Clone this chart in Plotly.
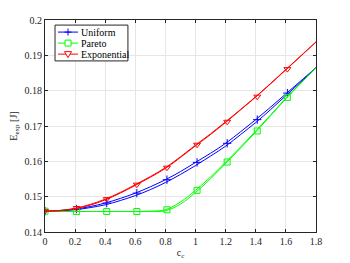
import plotly.graph_objects as go

# Curve samples (c_c) and values
x_curve = [0, 0.1, 0.2, 0.3, 0.4, 0.5, 0.6, 0.7, 0.8, 0.9, 1.0, 1.1, 1.2, 1.3, 1.4, 1.5, 1.6, 1.7, 1.8]
exp_a = [0.1459, 0.1461, 0.1467, 0.1478, 0.1493, 0.1512, 0.1534, 0.1557, 0.1582, 0.1613, 0.1646,
         0.1678, 0.1712, 0.1747, 0.1783, 0.1821, 0.1860, 0.1899, 0.1938]
exp_b = [0.1459, 0.1460, 0.1466, 0.1476, 0.1491, 0.1510, 0.1532, 0.1555, 0.1580, 0.1611, 0.1644,
         0.1676, 0.1710, 0.1746, 0.1782, 0.1820, 0.1859, 0.1898, 0.1938]
uni_a = [0.1459, 0.1461, 0.1465, 0.1472, 0.1482, 0.1495, 0.1510, 0.1528, 0.1548, 0.1571, 0.1597,
         0.1623, 0.1651, 0.1684, 0.1718, 0.1754, 0.1791, 0.1828, 0.1865]
uni_b = [0.1459, 0.1460, 0.1463, 0.1469, 0.1477, 0.1489, 0.1503, 0.1520, 0.1540, 0.1563, 0.1588,
         0.1615, 0.1643, 0.1676, 0.1710, 0.1747, 0.1786, 0.1825, 0.1865]
par_a = [0.1459, 0.1458, 0.1458, 0.1458, 0.1458, 0.1458, 0.1458, 0.1459, 0.1463, 0.1485, 0.1518,
         0.1556, 0.1598, 0.1641, 0.1686, 0.1732, 0.1779, 0.1822, 0.1865]
par_b = [0.1459, 0.1458, 0.1458, 0.1458, 0.1458, 0.1458, 0.1458, 0.1458, 0.1460, 0.1479, 0.1512,
         0.1551, 0.1594, 0.1638, 0.1683, 0.1730, 0.1777, 0.1821, 0.1865]

# Marker positions and values
x_mark = [0, 0.21, 0.41, 0.61, 0.81, 1.01, 1.21, 1.41, 1.61]
uni_m = [0.1459, 0.1465, 0.1482, 0.1510, 0.1548, 0.1597, 0.1651, 0.1718, 0.1793]
par_m = [0.1459, 0.1458, 0.1458, 0.1458, 0.1463, 0.1518, 0.1598, 0.1686, 0.1781]
exp_m = [0.1459, 0.1468, 0.1493, 0.1534, 0.1582, 0.1647, 0.1712, 0.1783, 0.1861]

x_ticks = [0, 0.2, 0.4, 0.6, 0.8, 1, 1.2, 1.4, 1.6, 1.8]
x_ticktext = ["0", "0.2", "0.4", "0.6", "0.8", "1", "1.2", "1.4", "1.6", "1.8"]
y_ticks = [0.14, 0.15, 0.16, 0.17, 0.18, 0.19, 0.2]
y_ticktext = ["0.14", "0.15", "0.16", "0.17", "0.18", "0.19", "0.2"]

series_names = ["Uniform", "Pareto", "Exponential"]
series_colors = ["#0000FF", "#00FF00", "#FF0000"]
series_symbols = ["cross-thin", "square-open", "triangle-down-open"]

FONT = "Times New Roman, Liberation Serif, DejaVu Serif, serif"

curves_a = [uni_a, par_a, exp_a]
curves_b = [uni_b, par_b, exp_b]
marks = [uni_m, par_m, exp_m]

fig = go.Figure()
for name, color, sym, ya, yb, ym in zip(series_names, series_colors, series_symbols, curves_a, curves_b, marks):
    fig.add_trace(go.Scatter(x=x_curve, y=yb, mode="lines", line=dict(color=color, width=1, shape="spline"),
                             showlegend=False, hoverinfo="skip"))
    fig.add_trace(go.Scatter(x=x_curve, y=ya, mode="lines", line=dict(color=color, width=1, shape="spline"),
                             showlegend=False, hoverinfo="skip"))
    fig.add_trace(go.Scatter(x=x_mark, y=ym, mode="markers", name=name,
                             marker=dict(symbol=sym, size=6, color=color, line=dict(color=color, width=1)),
                             showlegend=False))

# ---- compact legend box (MATLAB style) built from layout shapes/annotations ----
shapes = [dict(type="rect", xref="paper", yref="paper", x0=0.037, x1=0.306, y0=0.807, y1=0.976,
               line=dict(color="#262626", width=1), fillcolor="white", layer="above")]
annotations = []
row_y = [0.943, 0.891, 0.839]
for name, color, sym, ry in zip(series_names, series_colors, series_symbols, row_y):
    shapes.append(dict(type="line", xref="paper", yref="paper", x0=0.048, x1=0.122, y0=ry, y1=ry,
                       line=dict(color=color, width=1), layer="above"))
    base = dict(xref="paper", yref="paper", xsizemode="pixel", ysizemode="pixel",
                xanchor=0.085, yanchor=ry, line=dict(color=color, width=1), layer="above")
    if sym == "cross-thin":
        shapes.append(dict(type="line", x0=-3.5, x1=3.5, y0=0, y1=0, **base))
        shapes.append(dict(type="line", x0=0, x1=0, y0=-3.5, y1=3.5, **base))
    elif sym == "square-open":
        shapes.append(dict(type="rect", x0=-3, x1=3, y0=-3, y1=3, fillcolor="white", **base))
    else:
        shapes.append(dict(type="path", path="M-3.5,2.5 L3.5,2.5 L0,-3.5 Z", fillcolor="white", **base))
    annotations.append(dict(xref="paper", yref="paper", x=0.124, y=ry, xanchor="left", yanchor="middle",
                            text=name, showarrow=False,
                            font=dict(family=FONT, size=10, color="#000000")))

axis_common = dict(showline=True, linecolor="#262626", linewidth=1, mirror="allticks",
                   ticks="inside", ticklen=3, tickcolor="#262626", automargin=False,
                   showgrid=True, gridcolor="#E6E6E6", gridwidth=1, zeroline=False,
                   tickfont=dict(family=FONT, size=10, color="#262626"))

fig.update_layout(
    width=342, height=255,
    margin=dict(l=37, r=34, t=12, b=31),
    paper_bgcolor="white", plot_bgcolor="white",
    font=dict(family=FONT, size=10, color="#262626"),
    showlegend=False,
    xaxis=dict(range=[0, 1.8], tickvals=x_ticks, ticktext=x_ticktext,
               title=dict(text="c<sub>c</sub>", standoff=2, font=dict(family=FONT, size=10)), **axis_common),
    yaxis=dict(range=[0.14, 0.2], tickvals=y_ticks, ticktext=y_ticktext,
               title=dict(text="E<sub>exp</sub> [J]", standoff=6, font=dict(family=FONT, size=10)), **axis_common),
    shapes=shapes,
    annotations=annotations,
)

fig.write_html("out.html")
